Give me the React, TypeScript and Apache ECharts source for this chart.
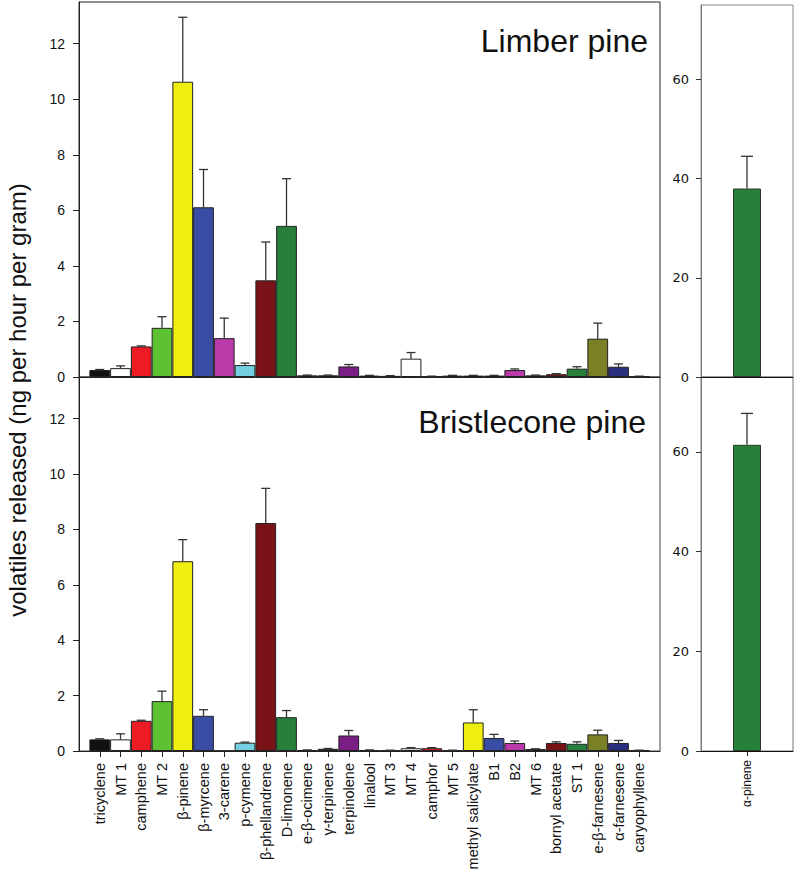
import React, { useEffect, useRef } from 'react';
import * as echarts from 'echarts';

const categories = [
  'tricyclene', 'MT 1', 'camphene', 'MT 2', 'β-pinene', 'β-myrcene', '3-carene', 'p-cymene',
  'β-phellandrene', 'D-limonene', 'e-β-ocimene', 'γ-terpinene', 'terpinolene', 'linalool', 'MT 3',
  'MT 4', 'camphor', 'MT 5', 'methyl salicylate', 'B1', 'B2', 'MT 6', 'bornyl acetate', 'ST 1',
  'e-β-farnesene', 'α-farnesene', 'caryophyllene',
];

const barColors = [
  '#111111', '#ffffff', '#ed1c24', '#5cc232', '#eeee11', '#3a4da4', '#b93aa8', '#73d0e0',
  '#7a1317', '#26803a', '#7a8025', '#2a2f80', '#7a1d85', '#1a7a7a', '#111111',
  '#ffffff', '#ed1c24', '#5cc232', '#eeee11', '#3a4da4', '#b93aa8', '#73d0e0', '#7a1317', '#26803a',
  '#7a8025', '#2a2f80', '#7a1d85',
];

const limberMeans = [0.25, 0.32, 1.1, 1.77, 10.63, 6.11, 1.4, 0.43, 3.48, 5.44, 0.06, 0.06, 0.38, 0.05, 0.04, 0.66, 0.02, 0.05, 0.05, 0.05, 0.25, 0.06, 0.1, 0.3, 1.38, 0.37, 0.02];
const limberErrors = [0.02, 0.08, 0.02, 0.4, 2.32, 1.36, 0.72, 0.07, 1.38, 1.7, 0.01, 0.01, 0.07, 0.01, 0.01, 0.22, 0.01, 0.01, 0.01, 0.01, 0.04, 0.01, 0.02, 0.07, 0.56, 0.1, 0.01];

const bristleMeans = [0.42, 0.42, 1.09, 1.8, 6.85, 1.27, 0.01, 0.3, 8.23, 1.22, 0.03, 0.08, 0.56, 0.03, 0.02, 0.1, 0.1, 0.02, 1.03, 0.47, 0.29, 0.07, 0.29, 0.26, 0.6, 0.29, 0.02];
const bristleErrors = [0.02, 0.2, 0.02, 0.36, 0.78, 0.22, 0, 0.02, 1.25, 0.24, 0.01, 0.01, 0.18, 0.01, 0.01, 0.02, 0.02, 0.01, 0.46, 0.13, 0.07, 0.01, 0.04, 0.07, 0.15, 0.09, 0.01];

const alphaCategory = ['α-pinene'];
const alphaLimber = [38];
const alphaLimberErr = [6.5];
const alphaBristle = [61.4];
const alphaBristleErr = [6.3];

const mainTicks = [0, 2, 4, 6, 8, 10, 12];
const alphaTicks = [0, 20, 40, 60];
const panelTitles = ['Limber pine', 'Bristlecone pine'];
const yTitle = 'volatiles released (ng per hour per gram)';

const FONT = '"Liberation Sans", Arial, sans-serif';

function errorRender(capHalf: number) {
  return (params: any, api: any) => {
    const x = api.value(0);
    const v = api.value(1);
    const e = api.value(2);
    const p0 = api.coord([x, v]);
    const p1 = api.coord([x, v + e]);
    const style = { stroke: '#333', lineWidth: 1.3 };
    return {
      type: 'group',
      children: [
        { type: 'line', shape: { x1: p0[0], y1: p0[1], x2: p1[0], y2: p1[1] }, style },
        { type: 'line', shape: { x1: p1[0] - capHalf, y1: p1[1], x2: p1[0] + capHalf, y2: p1[1] }, style },
      ],
    };
  };
}

export default function App() {
  const ref = useRef<HTMLDivElement>(null);
  useEffect(() => {
    if (!ref.current) return;
    const chart = echarts.init(ref.current, undefined, { renderer: 'svg' });
    const idx = categories.map((_, i) => i);
    const mainX = (gridIndex: number, showLabels: boolean) => ({
      type: 'value',
      gridIndex,
      min: -1,
      max: categories.length,
      interval: 1,
      splitLine: { show: false },
      axisLine: { show: true, onZero: false, lineStyle: { color: '#222', width: 1 } },
      axisTick: showLabels
        ? { show: true, customValues: idx, length: 6, lineStyle: { color: '#222' } }
        : { show: false },
      axisLabel: showLabels
        ? {
            show: true,
            customValues: idx,
            rotate: 90,
            margin: 12,
            fontSize: 14.5,
            fontFamily: FONT,
            color: '#111',
            formatter: (v: number) => categories[v] ?? '',
          }
        : { show: false },
    });
    const mainY = (gridIndex: number) => ({
      type: 'value',
      gridIndex,
      min: 0,
      max: 13.5,
      splitLine: { show: false },
      axisLine: { show: true, onZero: false, lineStyle: { color: '#222' } },
      axisTick: { show: true, customValues: mainTicks, length: 6, lineStyle: { color: '#222' } },
      axisLabel: { customValues: mainTicks, fontSize: 14, fontFamily: FONT, color: '#111', margin: 14 },
    });
    const alphaX = (gridIndex: number, showLabels: boolean) => ({
      type: 'category',
      gridIndex,
      data: alphaCategory,
      axisLine: { show: true, onZero: false, lineStyle: { color: '#111' } },
      axisTick: showLabels ? { show: true, alignWithLabel: true, length: 5, lineStyle: { color: '#222' } } : { show: false },
      axisLabel: showLabels
        ? { show: true, rotate: 90, fontSize: 12, fontFamily: FONT, color: '#111', margin: 9 }
        : { show: false },
    });
    const alphaY = (gridIndex: number) => ({
      type: 'value',
      gridIndex,
      min: 0,
      max: 75,
      splitLine: { show: false },
      axisLine: { show: true, onZero: false, lineStyle: { color: '#777' } },
      axisTick: { show: true, customValues: alphaTicks, length: 5, lineStyle: { color: '#333' } },
      axisLabel: { customValues: alphaTicks, fontSize: 13, fontFamily: '"DejaVu Sans", sans-serif', color: '#111', margin: 12 },
    });
    const slot = 581 / (categories.length + 1);
    const mainBar = (i: number, means: number[]) => ({
      type: 'bar',
      xAxisIndex: i,
      yAxisIndex: i,
      barWidth: slot,
      data: means.map((v, k) => ({ value: [k, v], itemStyle: { color: barColors[k] } })),
      itemStyle: { borderColor: '#222', borderWidth: 1 },
      z: 2,
    });
    const errSeries = (i: number, means: number[], errs: number[], capHalf: number) => ({
      type: 'custom',
      xAxisIndex: i,
      yAxisIndex: i,
      renderItem: errorRender(capHalf),
      data: means.map((v, k) => [k, v, errs[k]]),
      z: 3,
    });
    const alphaBar = (i: number, means: number[]) => ({
      type: 'bar',
      xAxisIndex: i,
      yAxisIndex: i,
      barWidth: 28,
      data: means,
      itemStyle: { color: '#27803a', borderColor: '#2a3a2a', borderWidth: 1 },
      z: 2,
    });

    chart.setOption({
      animation: false,
      backgroundColor: '#ffffff',
      grid: [
        { left: 79, top: 2, width: 581, height: 375, show: true, borderColor: '#222', borderWidth: 1 },
        { left: 79, top: 377, width: 581, height: 374, show: true, borderColor: '#444', borderWidth: 1 },
        { left: 701, top: 5, width: 92, height: 372, show: true, borderColor: '#888', borderWidth: 1 },
        { left: 701, top: 377, width: 92, height: 374, show: true, borderColor: '#777', borderWidth: 1 },
      ],
      xAxis: [mainX(0, false), mainX(1, true), alphaX(2, false), alphaX(3, true)],
      yAxis: [mainY(0), mainY(1), alphaY(2), alphaY(3)],
      series: [
        mainBar(0, limberMeans),
        errSeries(0, limberMeans, limberErrors, 4.5),
        mainBar(1, bristleMeans),
        errSeries(1, bristleMeans, bristleErrors, 4.5),
        alphaBar(2, alphaLimber),
        errSeries(2, alphaLimber, alphaLimberErr, 6),
        alphaBar(3, alphaBristle),
        errSeries(3, alphaBristle, alphaBristleErr, 6),
      ],
      graphic: [
        {
          type: 'text',
          x: 648,
          y: 41,
          style: {
            text: panelTitles[0], fontSize: 32, fontFamily: FONT, fill: '#111',
            textAlign: 'right', textVerticalAlign: 'middle', align: 'right', verticalAlign: 'middle',
          },
        },
        {
          type: 'text',
          x: 646,
          y: 422,
          style: {
            text: panelTitles[1], fontSize: 32, fontFamily: FONT, fill: '#111',
            textAlign: 'right', textVerticalAlign: 'middle', align: 'right', verticalAlign: 'middle',
          },
        },
        {
          type: 'text',
          x: 17,
          y: 400,
          rotation: Math.PI / 2,
          style: {
            text: yTitle, fontSize: 24, fontFamily: FONT, fill: '#111',
            textAlign: 'center', textVerticalAlign: 'middle', align: 'center', verticalAlign: 'middle',
          },
        },
      ],
    });
    return () => chart.dispose();
  }, []);
  return <div ref={ref} style={{ position: 'absolute', left: 0, top: 0, width: 800, height: 873 }} />;
}
